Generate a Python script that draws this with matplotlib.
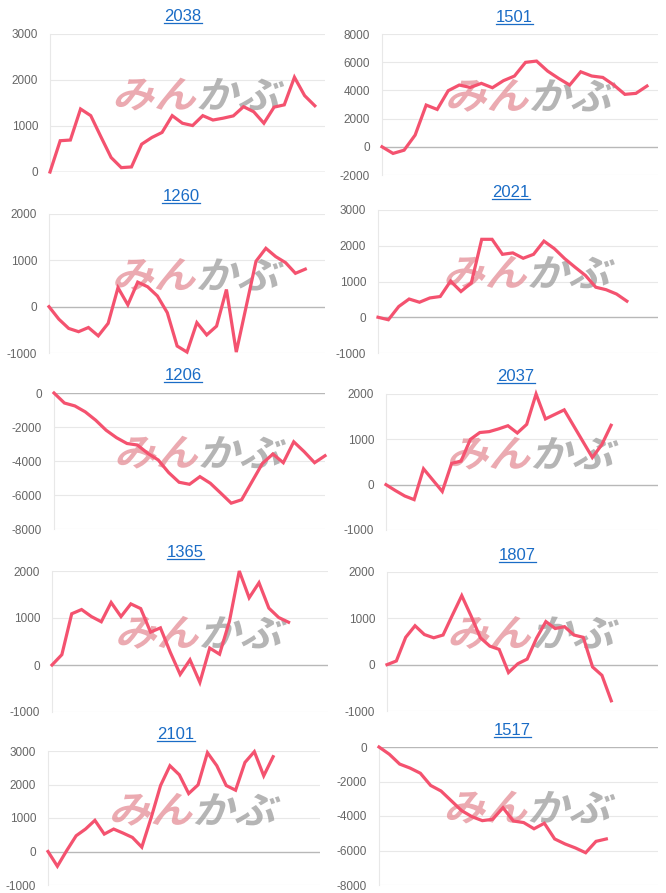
import matplotlib
matplotlib.use('Agg')
import matplotlib.pyplot as plt
from matplotlib.textpath import TextPath
from matplotlib.patches import PathPatch
from matplotlib.font_manager import FontProperties
from matplotlib.transforms import Affine2D
from matplotlib.lines import Line2D

plt.rcParams['font.family'] = ['Liberation Sans', 'DejaVu Sans']

W, H = 666, 893

codes = ['2038', '1501', '1260', '2021', '1206', '2037', '1365', '1807', '2101', '1517']

v2038 = [0, 680, 695, 1370, 1225, 765, 315, 95, 110, 605, 750, 860, 1225, 1060,
         1010, 1225, 1130, 1170, 1220, 1420, 1310, 1060, 1410, 1460, 2060, 1660, 1440]
v1501 = [0, -470, -240, 830, 2960, 2650, 3980, 4380, 4210, 4500, 4190, 4690, 5020,
         5990, 6080, 5370, 4850, 4380, 5320, 5020, 4920, 4380, 3720, 3790, 4310]
v1260 = [0, -270, -470, -540, -450, -630, -360, 410, 40, 530, 430, 230, -130, -850,
         -980, -345, -610, -420, 370, -980, 0, 980, 1260, 1080, 950, 720, 810]
v2021 = [0, -70, 300, 510, 420, 540, 580, 1010, 720, 960, 2180, 2180, 1760, 1800,
         1650, 1760, 2130, 1920, 1640, 1400, 1170, 840, 770, 650, 450]
v1206 = [0, -590, -760, -1110, -1600, -2190, -2630, -2970, -3060, -3550, -3940,
         -4680, -5250, -5370, -4920, -5310, -5890, -6480, -6280, -5210, -4140,
         -3590, -4100, -2870, -3450, -4100, -3690]
v2037 = [0, -130, -250, -330, 350, 100, -150, 470, 520, 1000, 1150, 1170, 1230,
         1300, 1140, 1330, 2000, 1450, 1550, 1650, 1300, 950, 600, 880, 1310]
v1365 = [0, 220, 1090, 1180, 1030, 920, 1330, 1030, 1300, 1200, 700, 790, 270,
         -200, 110, -370, 360, 230, 930, 2000, 1430, 1750, 1210, 1010, 910]
v1807 = [0, 80, 590, 840, 650, 580, 640, 1070, 1490, 1050, 580, 400, 330, -170,
         20, 120, 570, 930, 780, 820, 640, 590, -50, -230, -780]
v2101 = [0, -440, 30, 470, 670, 930, 520, 670, 550, 420, 130, 1010, 1970, 2560,
         2290, 1730, 1990, 2950, 2560, 1970, 1830, 2660, 2980, 2260, 2830]
v1517 = [0, -420, -990, -1220, -1520, -2230, -2550, -3120, -3690, -4040, -4270,
         -4190, -3520, -4290, -4380, -4740, -4420, -5330, -5620, -5850, -6130,
         -5470, -5330]

series = [v2038, v1501, v1260, v2021, v1206, v2037, v1365, v1807, v2101, v1517]

yticks = [
    [0, 1000, 2000, 3000],
    [-2000, 0, 2000, 4000, 6000, 8000],
    [-1000, 0, 1000, 2000],
    [-1000, 0, 1000, 2000, 3000],
    [-8000, -6000, -4000, -2000, 0],
    [-1000, 0, 1000, 2000],
    [-1000, 0, 1000, 2000],
    [-1000, 0, 1000, 2000],
    [-1000, 0, 1000, 2000, 3000],
    [-8000, -6000, -4000, -2000, 0],
]

# number of date slots on each x axis
x_slots = [27, 25, 28, 27, 26, 29, 28, 29, 29, 27]

# axes boxes in pixels: left, top, right, bottom
boxes = [
    (50, 34, 325, 172), (382, 34, 658, 175),
    (49, 214, 325, 353), (378, 210, 658, 353),
    (54, 393, 325, 529), (386, 394, 658, 530),
    (52, 571, 328, 712), (387, 572, 658, 711),
    (48, 751, 320, 885), (379, 747, 658, 885),
]
# title centre x and baseline y in pixels
title_xy = [(183, 21), (514, 22), (181, 201), (511, 197), (183, 380),
            (516, 381), (185, 557), (517, 560), (176, 739), (512, 735)]

LINE = '#f4526f'
BLUE = '#1a6cc6'
TICK = '#666666'
GRID = '#e8e8e8'
BASE = '#b8b8b8'

wm_font = FontProperties(family='Noto Sans CJK JP', weight='bold')


def add_mark(fig, ax):
    """Semi transparent logo in the middle of a panel."""
    pos = ax.get_position()
    fw, fh = fig.get_size_inches()
    cx = (pos.x0 + 0.545 * pos.width) * fw
    cy = (pos.y0 + 0.565 * pos.height) * fh
    for txt, col, dx in [('みん', '#e48a93', -0.42), ('かぶ', '#999999', 0.42)]:
        tp = TextPath((0, 0), txt, size=1, prop=wm_font)
        ext = tp.get_extents()
        s = 0.80 / ext.width
        tr = (Affine2D().translate(-ext.x0 - ext.width / 2, -ext.y0 - ext.height / 2)
              .skew_deg(14, 0).scale(s, s * 0.9).translate(cx + dx, cy)
              + fig.dpi_scale_trans)
        p = PathPatch(tp, facecolor=col, edgecolor='none', alpha=0.72, zorder=1.5)
        p.set_transform(tr)
        p.set_clip_on(False)
        ax.add_patch(p)


fig = plt.figure(figsize=(W / 100, H / 100), dpi=100)
titles = []

for i, code in enumerate(codes):
    l, t, r, b = boxes[i]
    ax = fig.add_axes([l / W, 1 - b / H, (r - l) / W, (b - t) / H])
    vals = series[i]
    ax.plot(range(len(vals)), vals, color=LINE, lw=2.3, zorder=3,
            solid_joinstyle='miter', clip_on=False)
    ax.set_xlim(0, x_slots[i])
    ax.set_ylim(yticks[i][0], yticks[i][-1])
    ax.set_yticks(yticks[i])
    ax.set_yticklabels([str(v) for v in yticks[i]])
    ax.set_xticks([])
    for v in yticks[i]:
        ax.axhline(v, color=BASE if v == 0 else GRID, lw=1.0 if v == 0 else 0.8,
                   zorder=1 if v == 0 else 0.5)
    for sp in ['top', 'right', 'bottom']:
        ax.spines[sp].set_visible(False)
    ax.spines['left'].set_color(GRID)
    ax.spines['left'].set_linewidth(0.8)
    ax.tick_params(axis='y', length=0, pad=8.5, labelsize=8.5, labelcolor=TICK)
    add_mark(fig, ax)

    tx, ty = title_xy[i]
    titles.append(fig.text(tx / W, 1 - ty / H, code, ha='center', va='baseline',
                           fontsize=12, color=BLUE))

# underline the titles like links
renderer = fig.canvas.get_renderer()
for t in titles:
    bb = t.get_window_extent(renderer=renderer)
    y = t.get_position()[1] * H - 2.0
    fig.add_artist(Line2D([bb.x0 / W, bb.x1 / W], [y / H, y / H],
                          color=BLUE, lw=0.9))

fig.savefig('out.png', dpi=100, facecolor='white')
